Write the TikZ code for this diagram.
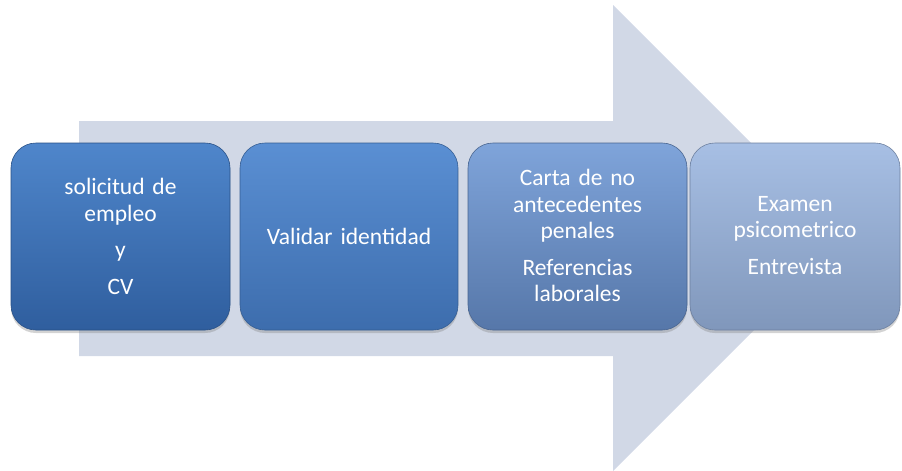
\documentclass[tikz,border=0pt]{standalone}
\usepackage{fontspec}
\setmainfont[WordSpace=0.7]{Carlito}
\usetikzlibrary{shadows}
\definecolor{arrowc}{HTML}{D1D8E6}
\definecolor{aT}{HTML}{4F86CB}\definecolor{aB}{HTML}{2F5E9E}
\definecolor{bT}{HTML}{5A8FD3}\definecolor{bB}{HTML}{3D6DAD}
\definecolor{cT}{HTML}{7FA4DA}\definecolor{cB}{HTML}{5677A9}
\definecolor{dT}{HTML}{A7BFE4}\definecolor{dB}{HTML}{8097BB}
\tikzset{
  stepbox/.style={rounded corners=25pt, minimum height=187pt,
    inner sep=0pt, outer sep=0pt, line width=0.6pt,
    drop shadow={opacity=0.35, shadow xshift=0pt, shadow yshift=-3pt}},
  steptext/.style={text width=200pt, align=center, text=white, inner sep=0pt,
    font=\fontsize{23.5}{26.5}\selectfont},
}
\begin{document}
\begin{tikzpicture}[x=1pt,y=-1pt]
\useasboundingbox (0,0) rectangle (902,471);
% background arrow
\fill[arrowc] (79,121) -- (613,121) -- (613,5) -- (846,238) -- (613,471) -- (613,356) -- (79,356) -- cycle;
\node[stepbox, minimum width=219pt, top color=aT, bottom color=aB, draw=aB!85!black] (s1) at (120.5,236.5) {};
\node[stepbox, minimum width=218pt, top color=bT, bottom color=bB, draw=bB!85!black] (s2) at (349,236.5) {};
\node[stepbox, minimum width=219pt, top color=cT, bottom color=cB, draw=cB!85!black] (s3) at (577.5,236.5) {};
\node[stepbox, minimum width=210pt, top color=dT, bottom color=dB, draw=dB!85!black] (s4) at (795,236.5) {};
\node[steptext, anchor=north] (t1) at (120.5,178) {solicitud de\\empleo\\[10pt]y\\[10pt]CV};
\node[steptext] (t2) at (349,236.5) {Validar identidad};
\node[steptext, anchor=north] (t3) at (577.5,169) {Carta de no\\antecedentes\\penales\\[10pt]Referencias\\laborales};
\node[steptext, anchor=north] (t4) at (795,196) {Examen\\psicometrico\\[10pt]Entrevista};
\end{tikzpicture}
\end{document}
